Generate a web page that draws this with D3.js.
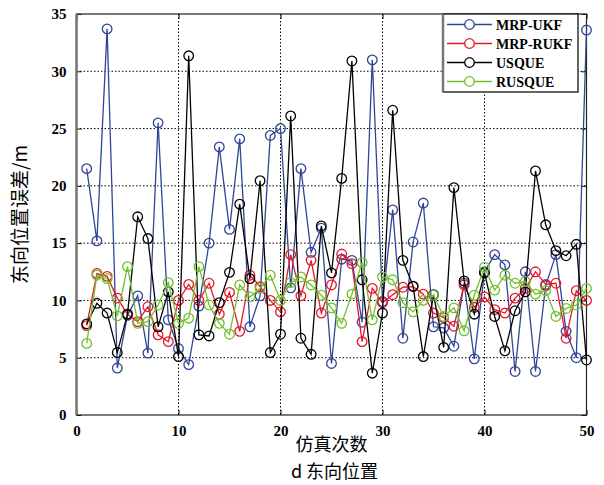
<!DOCTYPE html>
<html lang="zh">
<head>
<meta charset="utf-8">
<script src="https://d3js.org/d3.v7.min.js"></script>
<style>
  body { margin: 0; background: #fff; }
  .tick text { font-family: "Liberation Serif", serif; font-size: 15px; font-weight: bold; fill: #000; }
</style>
</head>
<body>
<div id="chart"></div>
<script>
// simulation runs 1..50
var runs = d3.range(1, 51);
var seriesNames = ["MRP-UKF", "MRP-RUKF", "USQUE", "RUSQUE"];
var seriesColors = ["#2f4597", "#e3182d", "#000000", "#72c02c"];

var mrpUkf = [21.5, 15.2, 33.7, 4.1, 8.7, 10.4, 5.4, 25.5, 8.3, 5.8,
              4.4, 9.5, 15.0, 23.4, 16.2, 24.1, 7.7, 10.4, 24.4, 25.0,
              11.1, 21.5, 14.2, 16.3, 4.5, 13.6, 13.5, 8.1, 31.0, 9.9,
              17.9, 6.7, 15.1, 18.5, 7.7, 7.6, 6.0, 11.5, 4.9, 12.5,
              14.0, 13.1, 3.8, 12.5, 3.8, 11.3, 14.0, 7.3, 5.0, 33.6];
var mrpRukf = [7.8, 12.35, 12.1, 10.2, 8.8, 8.15, 9.45, 7.0, 6.4, 10.0,
               11.4, 10.0, 11.5, 8.8, 10.7, 7.3, 12.2, 11.2, 10.0, 9.0,
               14.0, 10.4, 13.5, 8.9, 11.35, 14.05, 13.2, 6.4, 11.05, 9.8,
               10.5, 11.15, 11.2, 10.55, 8.9, 8.5, 7.75, 11.35, 9.4, 10.3,
               9.2, 8.9, 10.2, 11.05, 12.5, 11.4, 11.5, 6.7, 10.85, 10.0];
var usque = [7.95, 9.75, 8.9, 5.45, 8.8, 17.3, 15.4, 7.7, 10.75, 5.1,
             31.35, 7.0, 6.9, 9.8, 12.45, 18.4, 11.9, 20.45, 5.45, 7.05,
             26.1, 6.7, 5.3, 16.5, 12.4, 20.65, 30.9, 11.8, 3.65, 8.9,
             26.6, 13.5, 11.25, 5.1, 10.5, 5.9, 19.85, 11.7, 8.8, 12.4,
             8.6, 5.6, 9.1, 10.75, 21.3, 16.6, 14.35, 13.9, 14.9, 4.8];
var rusque = [6.25, 12.2, 11.9, 8.65, 12.95, 8.0, 8.15, 9.6, 11.55, 8.0,
              8.45, 12.95, 9.6, 8.0, 7.05, 11.35, 10.3, 11.05, 12.2, 10.0,
              11.55, 12.05, 11.35, 10.45, 9.35, 8.0, 10.55, 13.3, 8.3, 12.05,
              11.8, 9.8, 9.0, 10.0, 10.45, 8.6, 9.35, 7.35, 10.45, 12.9,
              10.9, 12.2, 11.5, 11.65, 10.55, 10.85, 8.6, 9.3, 9.6, 11.05];

var xTicks = [0, 10, 20, 30, 40, 50];
var yTicks = [0, 5, 10, 15, 20, 25, 30, 35];

var allSeries = [mrpUkf, mrpRukf, usque, rusque];

var W = 604, H = 485;
var margin = {top: 14, right: 17.5, bottom: 70, left: 76.5};
var width = W - margin.left - margin.right,
    height = H - margin.top - margin.bottom;

var svg = d3.select("#chart").append("svg")
    .attr("width", W).attr("height", H);
var g = svg.append("g")
    .attr("transform", "translate(" + margin.left + "," + margin.top + ")");

var x = d3.scaleLinear().domain([0, 50]).range([0, width]);
var y = d3.scaleLinear().domain([0, 35]).range([height, 0]);

// grid
g.append("g").selectAll("line").data(xTicks.slice(1, -1)).join("line")
  .attr("x1", d => x(d)).attr("x2", d => x(d))
  .attr("y1", 0).attr("y2", height)
  .attr("stroke", "#000").attr("stroke-width", 1).attr("stroke-dasharray", "1.5,2");
g.append("g").selectAll("line").data(yTicks.slice(1, -1)).join("line")
  .attr("y1", d => y(d)).attr("y2", d => y(d))
  .attr("x1", 0).attr("x2", width)
  .attr("stroke", "#000").attr("stroke-width", 1).attr("stroke-dasharray", "1.5,2");

// axes, ticks inside like matlab
var xAxis = g.append("g").attr("transform", "translate(0," + height + ")")
  .call(d3.axisBottom(x).tickValues(xTicks).tickSize(-5).tickPadding(10));
var yAxis = g.append("g")
  .call(d3.axisLeft(y).tickValues(yTicks).tickSize(-5).tickPadding(10));
g.append("g").attr("transform", "translate(" + width + ",0)")
  .call(d3.axisRight(y).tickValues(yTicks).tickSize(-5).tickFormat(""));
g.append("g")
  .call(d3.axisTop(x).tickValues(xTicks).tickSize(-5).tickFormat(""));
g.selectAll(".domain").remove();
g.selectAll(".tick line").attr("stroke", "#000");

g.append("rect").attr("width", width).attr("height", height)
  .attr("fill", "none").attr("stroke", "#222").attr("stroke-width", 1.2);
g.append("line").attr("x1", 0).attr("x2", 0).attr("y1", 0).attr("y2", height)
  .attr("stroke", "#777").attr("stroke-width", 2.5);

// series
var line = d3.line().x((d, i) => x(runs[i])).y(d => y(d));
allSeries.forEach(function(vals, k) {
  var sg = g.append("g");
  sg.append("path").datum(vals)
    .attr("fill", "none").attr("stroke", seriesColors[k])
    .attr("stroke-width", 1.3).attr("d", line);
  sg.selectAll("circle").data(vals).join("circle")
    .attr("cx", (d, i) => x(runs[i])).attr("cy", d => y(d))
    .attr("r", 4.8).attr("fill", "none")
    .attr("stroke", seriesColors[k]).attr("stroke-width", 1.3);
});

// legend
var lg = g.append("g").attr("transform", "translate(" + (443 - margin.left) + ",0)");
lg.append("rect").attr("width", 135).attr("height", 78)
  .attr("fill", "#fff").attr("stroke", "#000").attr("stroke-width", 1.2);
lg.append("line").attr("x1", 0).attr("x2", 0).attr("y1", 0).attr("y2", 78)
  .attr("stroke", "#777").attr("stroke-width", 2.5);
seriesNames.forEach(function(name, k) {
  var yy = 10.5 + k * 19;
  lg.append("line").attr("x1", 4).attr("x2", 49).attr("y1", yy).attr("y2", yy)
    .attr("stroke", seriesColors[k]).attr("stroke-width", 1.3);
  lg.append("circle").attr("cx", 26.5).attr("cy", yy).attr("r", 4.8)
    .attr("fill", "#fff").attr("stroke", seriesColors[k]).attr("stroke-width", 1.3);
  lg.append("text").attr("x", 53).attr("y", yy + 5)
    .style("font-family", "Liberation Serif, serif").style("font-weight", "bold")
    .style("font-size", "14px").text(name);
});

// labels
svg.append("text")
  .attr("transform", "translate(27," + (margin.top + height / 2) + ") rotate(-90)")
  .attr("text-anchor", "middle")
  .style("font-family", "Noto Sans CJK SC").style("font-size", "19px")
  .text("东向位置误差/m");
svg.append("text").attr("x", margin.left + width / 2).attr("y", 451)
  .attr("text-anchor", "middle")
  .style("font-family", "Noto Sans CJK SC").style("font-size", "18px")
  .text("仿真次数");
svg.append("text").attr("x", margin.left + width / 2 + 3).attr("y", 478)
  .attr("text-anchor", "middle")
  .style("font-family", "Noto Sans CJK SC").style("font-size", "18px")
  .text("d  东向位置");
</script>
</body>
</html>
